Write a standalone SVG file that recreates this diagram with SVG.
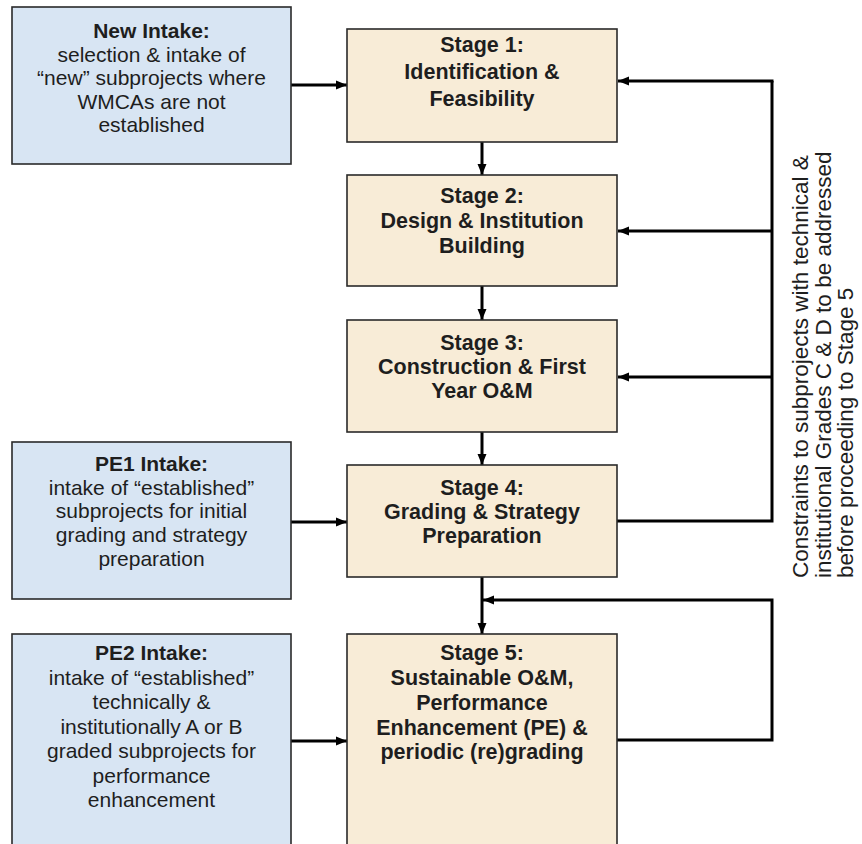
<svg xmlns="http://www.w3.org/2000/svg" width="862" height="844" viewBox="0 0 862 844">
<defs>
<style>
.intake{fill:#d8e5f3;stroke:#2a2a2a;stroke-width:1.6}
.stage{fill:#f8ecd7;stroke:#2a2a2a;stroke-width:1.6}
text{font-family:"Liberation Sans",Arial,sans-serif;fill:#1e1e1e;text-anchor:middle}
.t{font-size:21px}
.b{font-weight:bold}
.s{font-size:21.5px;font-weight:bold}
.rot{font-size:22.5px;text-anchor:start}
.con{fill:none;stroke:#000;stroke-width:3}
.arr{marker-end:url(#ah)}
</style>
<marker id="ah" markerUnits="userSpaceOnUse" markerWidth="12" markerHeight="12" viewBox="0 0 12 12" refX="11" refY="6" orient="auto">
<path d="M0,1.5 L11,6 L0,10.5 Z" fill="#000"/>
</marker>
</defs>
<rect width="862" height="844" fill="#ffffff"/>

<g id="connectors">
<line class="con arr" x1="291" y1="85" x2="347" y2="85"/>
<line class="con arr" x1="291" y1="522" x2="347" y2="522"/>
<line class="con arr" x1="291" y1="741" x2="347" y2="741"/>
<line class="con arr" x1="482" y1="142" x2="482" y2="175"/>
<line class="con arr" x1="482" y1="286" x2="482" y2="320"/>
<line class="con arr" x1="482" y1="432" x2="482" y2="465"/>
<line class="con arr" x1="482" y1="577" x2="482" y2="634"/>
<polyline class="con" points="617,521 772,521 772,81"/>
<line class="con arr" x1="773.5" y1="81" x2="618" y2="81"/>
<line class="con arr" x1="772" y1="231" x2="618" y2="231"/>
<line class="con arr" x1="772" y1="377" x2="618" y2="377"/>
<polyline class="con arr" points="617,740 772,740 772,600 483,600"/>
</g>

<g id="new-intake">
<rect class="intake" x="12" y="7" width="279" height="157"/>
<text class="t b" x="151.5" y="38">New Intake:</text>
<text class="t" x="151.5" y="61.5">selection &amp; intake of</text>
<text class="t" x="151.5" y="85">“new” subprojects where</text>
<text class="t" x="151.5" y="108.5">WMCAs are not</text>
<text class="t" x="151.5" y="132">established</text>
</g>

<g id="pe1-intake">
<rect class="intake" x="12" y="442" width="279" height="157"/>
<text class="t b" x="151.5" y="471">PE1 Intake:</text>
<text class="t" x="151.5" y="494.5">intake of “established”</text>
<text class="t" x="151.5" y="518">subprojects for initial</text>
<text class="t" x="151.5" y="541.5">grading and strategy</text>
<text class="t" x="151.5" y="566">preparation</text>
</g>

<g id="pe2-intake">
<rect class="intake" x="12" y="634" width="279" height="220"/>
<text class="t b" x="151.5" y="660">PE2 Intake:</text>
<text class="t" x="151.5" y="684.5">intake of “established”</text>
<text class="t" x="151.5" y="709">technically &amp;</text>
<text class="t" x="151.5" y="733.5">institutionally A or B</text>
<text class="t" x="151.5" y="758">graded subprojects for</text>
<text class="t" x="151.5" y="782.5">performance</text>
<text class="t" x="151.5" y="807">enhancement</text>
</g>

<g id="stage1">
<rect class="stage" x="347" y="29" width="270" height="113"/>
<text class="s" x="482" y="52">Stage 1:</text>
<text class="s" x="482" y="79">Identification &amp;</text>
<text class="s" x="482" y="106">Feasibility</text>
</g>

<g id="stage2">
<rect class="stage" x="347" y="175" width="270" height="111"/>
<text class="s" x="482" y="203">Stage 2:</text>
<text class="s" x="482" y="228">Design &amp; Institution</text>
<text class="s" x="482" y="253">Building</text>
</g>

<g id="stage3">
<rect class="stage" x="347" y="320" width="270" height="112"/>
<text class="s" x="482" y="350">Stage 3:</text>
<text class="s" x="482" y="374">Construction &amp; First</text>
<text class="s" x="482" y="398">Year O&amp;M</text>
</g>

<g id="stage4">
<rect class="stage" x="347" y="465" width="270" height="112"/>
<text class="s" x="482" y="495">Stage 4:</text>
<text class="s" x="482" y="519">Grading &amp; Strategy</text>
<text class="s" x="482" y="543">Preparation</text>
</g>

<g id="stage5">
<rect class="stage" x="347" y="634" width="270" height="220"/>
<text class="s" x="482" y="660">Stage 5:</text>
<text class="s" x="482" y="685">Sustainable O&amp;M,</text>
<text class="s" x="482" y="710">Performance</text>
<text class="s" x="482" y="734.5">Enhancement (PE) &amp;</text>
<text class="s" x="482" y="759">periodic (re)grading</text>
</g>

<g id="constraint-label">
<text class="rot" transform="translate(808,578) rotate(-90)">Constraints to subprojects with technical &amp;</text>
<text class="rot" transform="translate(830.5,578) rotate(-90)">institutional Grades C &amp; D to be addressed</text>
<text class="rot" transform="translate(853,578) rotate(-90)">before proceeding to Stage 5</text>
</g>
</svg>
